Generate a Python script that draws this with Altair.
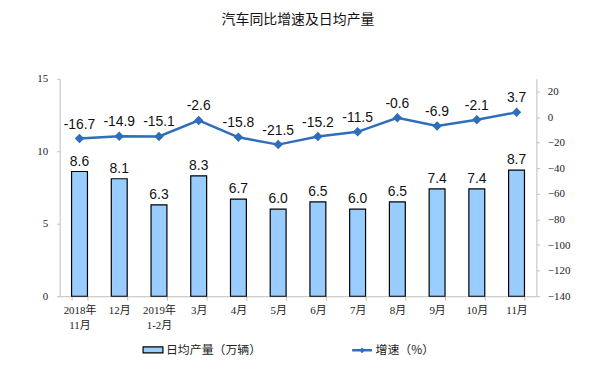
import altair as alt
import pandas as pd

categories = ["2018年\n11月", "12月", "2019年\n1-2月", "3月", "4月", "5月", "6月", "7月", "8月", "9月", "10月", "11月"]
production = [8.6, 8.1, 6.3, 8.3, 6.7, 6.0, 6.5, 6.0, 6.5, 7.4, 7.4, 8.7]
growth = [-16.7, -14.9, -15.1, -2.6, -15.8, -21.5, -15.2, -11.5, -0.6, -6.9, -2.1, 3.7]
left_ticks = [0, 5, 10, 15]
right_ticks = [20, 0, -20, -40, -60, -80, -100, -120, -140]

df = pd.DataFrame({
    "cat": categories,
    "prod": production,
    "growth": growth,
    "prod_label": [f"{v:.1f}" for v in production],
    "growth_label": [f"{v:.1f}" for v in growth],
})

AX_FONT = "Liberation Serif, Noto Sans CJK SC"
LBL_FONT = "Liberation Sans, Arial"
BLUE_LINE = "#2E6EBA"

x = alt.X(
    "cat:N",
    sort=categories,
    title=None,
    scale=alt.Scale(paddingInner=0.6, paddingOuter=0.3),
    axis=alt.Axis(
        labelAngle=0,
        labelExpr="split(datum.label, '\\n')",
        labelFont=AX_FONT,
        labelFontSize=11,
        labelColor="#222",
        labelPadding=4,
        tickBand="extent",
        tickSize=4,
        tickColor="#bfbfbf",
        domainColor="#bfbfbf",
        labelLineHeight=16,
    ),
)

right_axis = alt.Axis(
    orient="right",
    values=right_ticks,
    grid=False,
    labelFont=AX_FONT,
    labelFontSize=11,
    labelColor="#222",
    tickSize=3,
    tickColor="#bfbfbf",
    domainColor="#bfbfbf",
    labelPadding=8,
)
right_scale = alt.Scale(domain=[-140, 30], nice=False)

base = alt.Chart(df)

bars = base.transform_calculate(series="'日均产量（万辆）'").mark_bar(
    size=16, stroke="#000000", strokeWidth=1.2
).encode(
    x=x,
    y=alt.Y(
        "prod:Q",
        title=None,
        scale=alt.Scale(domain=[0, 15], nice=False),
        axis=alt.Axis(
            values=left_ticks,
            grid=False,
            labelFont=AX_FONT,
            labelFontSize=11,
            labelColor="#222",
            tickSize=3,
            tickColor="#bfbfbf",
            domainColor="#bfbfbf",
            labelPadding=9,
        ),
    ),
    fill=alt.Fill(
        "series:N",
        scale=alt.Scale(range=["#99CCFF"]),
        legend=alt.Legend(
            title=None,
            orient="none",
            legendX=83,
            legendY=262,
            symbolType="M-1,-0.3H1V0.3H-1Z",
            symbolSize=400,
            symbolStrokeColor="#000",
            symbolStrokeWidth=1.2,
            labelFont="Noto Sans CJK SC",
            labelFontSize=12,
            labelColor="#222",
            labelOffset=2,
        ),
    ),
)

bar_text = base.mark_text(dy=-10, font=LBL_FONT, fontSize=14, color="#111").encode(
    x=x,
    y=alt.Y("prod:Q", scale=alt.Scale(domain=[0, 15], nice=False)),
    text="prod_label:N",
)

line = base.transform_calculate(series2="'增速（%）'").mark_line(
    strokeWidth=2.5,
    point=alt.OverlayMarkDef(shape="diamond", size=45, filled=True, color=BLUE_LINE),
).encode(
    x=x,
    y=alt.Y("growth:Q", title=None, scale=right_scale, axis=right_axis),
    stroke=alt.Stroke(
        "series2:N",
        scale=alt.Scale(range=[BLUE_LINE]),
        legend=alt.Legend(
            title=None,
            orient="none",
            legendX=293,
            legendY=262,
            symbolType="M-1,0H1M-0.12,0L0,-0.12L0.12,0L0,0.12Z",
            symbolSize=400,
            symbolStrokeWidth=2.5,
            labelFont="Noto Sans CJK SC",
            labelFontSize=12,
            labelColor="#222",
            labelOffset=2,
        ),
    ),
)

line_text = base.mark_text(dy=-14, font=LBL_FONT, fontSize=14, color="#111").encode(
    x=x,
    y=alt.Y("growth:Q", title=None, scale=right_scale, axis=right_axis),
    text="growth_label:N",
)

left = alt.layer(bars, bar_text)
right = alt.layer(line, line_text)

chart = alt.layer(left, right).resolve_scale(y="independent", fill="independent", stroke="independent").properties(
    width=480,
    height=219,
    padding={"left": 52, "top": 70, "right": 60, "bottom": 60},
    autosize=alt.AutoSizeParams(type="none"),
    title=alt.Title(
        "汽车同比增速及日均产量",
        font="Noto Sans CJK SC",
        fontSize=14,
        fontWeight="normal",
        color="#111",
        anchor="middle",
        offset=46,
    ),
).configure_view(stroke=None)

chart.save("out.html", embed_options={"renderer": "svg", "actions": False})
